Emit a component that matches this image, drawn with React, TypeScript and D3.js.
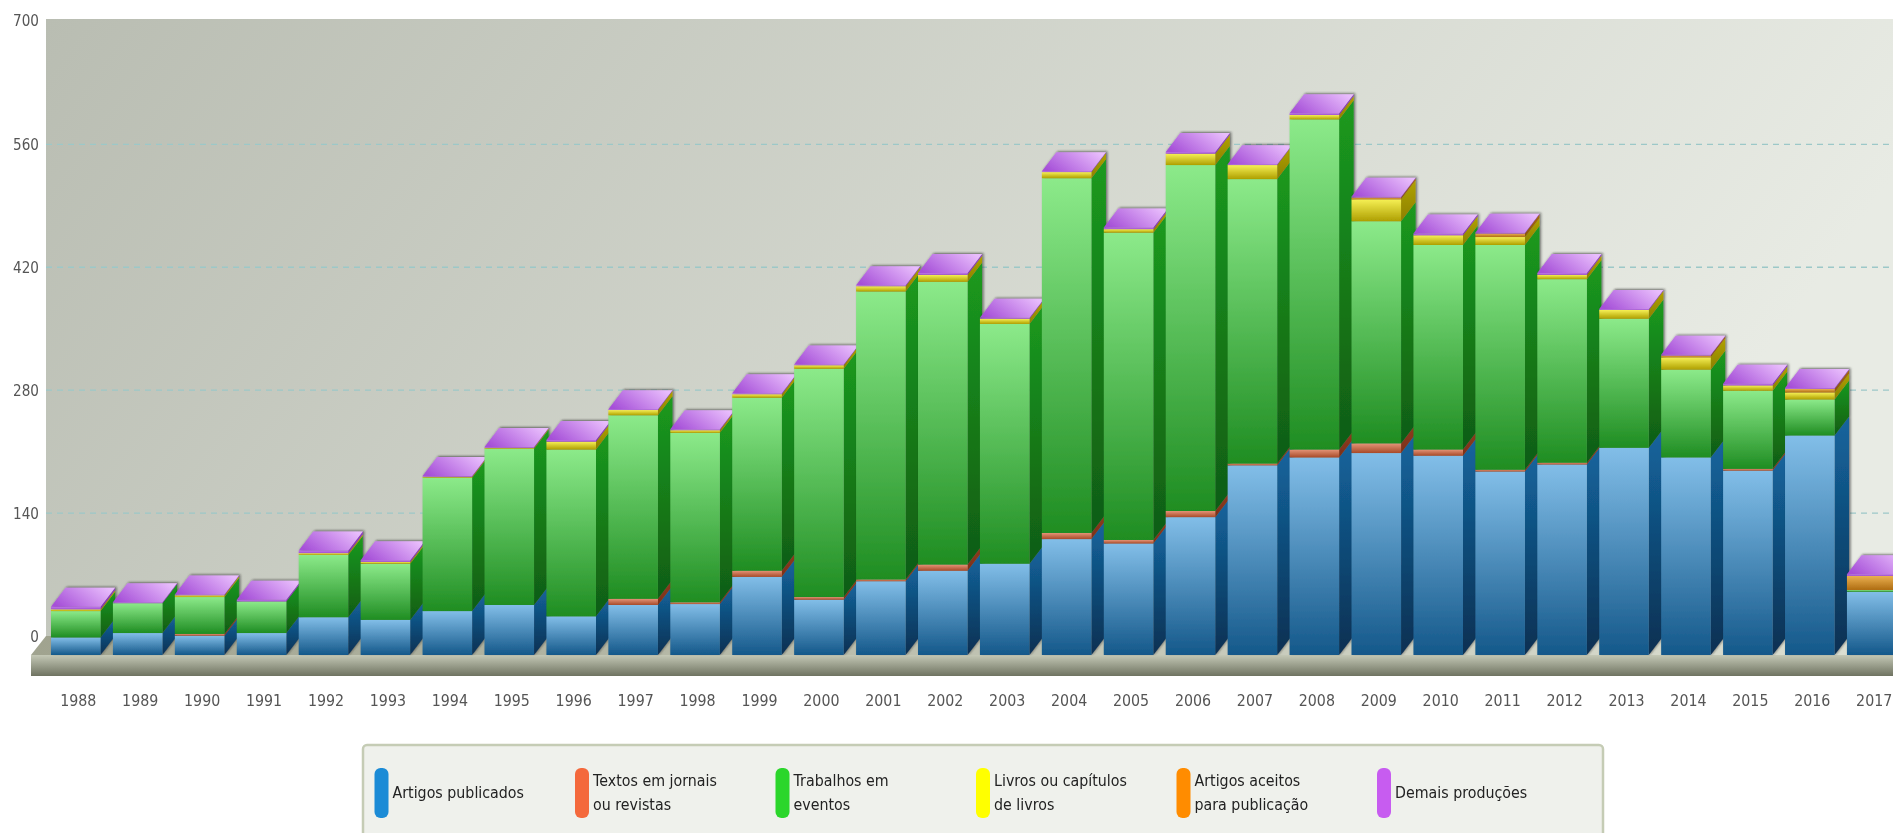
import React from "react";
import * as d3 from "d3";

const years = ["1988","1989","1990","1991","1992","1993","1994","1995","1996","1997","1998","1999","2000","2001","2002","2003","2004","2005","2006","2007","2008","2009","2010","2011","2012","2013","2014","2015","2016","2017"];
const artigos = [20,25,22,25,43,40,50,57,44,57,58,89,63,84,96,104,132,127,157,216,225,230,227,209,217,236,225,210,250,72];
const textos = [0,0,2,0,0,0,0,0,0,7,2,7,3,2,7,0,7,4,7,2,9,11,7,2,2,0,0,2,0,0];
const trabalhos = [30,34,42,36,71,64,152,178,190,209,193,197,260,328,322,273,404,350,394,324,376,253,233,256,209,147,100,89,41,2];
const livros = [2,0,2,0,2,2,1,1,9,6,3,4,4,6,8,6,7,4,13,16,5,25,11,9,5,10,14,6,8,0];
const aceitos = [0,0,0,0,0,0,0,0,0,0,0,0,0,0,0,0,0,0,0,0,0,2,0,4,0,0,2,0,4,16];
const demais = [3,1,1,2,3,2,1,1,2,1,1,1,1,1,2,1,1,2,2,1,2,1,2,1,2,1,1,2,1,2];
const yTicks = [0,140,280,420,560,700];
const seriesNames = ["Artigos publicados","Textos em jornais|ou revistas","Trabalhos em|eventos","Livros ou capítulos|de livros","Artigos aceitos|para publicação","Demais produções"];
const seriesValues = [artigos,textos,trabalhos,livros,aceitos,demais];
const legendColors = ["#1b8bd6","#f4693c","#2bd62b","#ffff00","#ff8c00","#c75cf0"];
const frontTop = ["#82bee8","#e49478","#8cea8a","#f6f055","#eab050","#c078ea"];
const frontBottom = ["#14588a","#a84a28","#1f8d22","#ae9f00","#ae6c10","#a050d0"];
const sideTop = ["#14659e","#8f3d20","#1b9a20","#b0a200","#a86a10","#9040c0"];
const sideBottom = ["#0a3052","#7a3018","#105c12","#8c8000","#8a5508","#8030b0"];

const W = 1893, H = 833;
const DX = 14.5, DY = 19;
const x = d3.scaleBand<string>().domain(years).range([51, 51 + 30 * 61.93 - 12.4]).paddingInner(0.2).paddingOuter(0);
const y = d3.scaleLinear().domain([0, 700]).range([655, 40.4]);
const stack = d3.stack<number>().keys(d3.range(6).map(String)).value((i, k) => seriesValues[+k][i]);
const layers = stack(d3.range(years.length));

const poly = (pts: number[][]) => "M" + pts.map(p => p.join(",")).join("L") + "Z";

const Txt = ({ x: tx, y: ty, anchor, fill, size, sx, children }: any) => (
  <text transform={`translate(${tx},${ty}) scale(${sx},1)`} textAnchor={anchor} fill={fill} fontSize={size}
    fontFamily="'DejaVu Sans', sans-serif">{children}</text>
);

export default function App() {
  const bw = x.bandwidth();
  return (
    <svg width={W} height={H} viewBox={`0 0 ${W} ${H}`} style={{ position: "absolute", left: 0, top: 0, display: "block", background: "#fff", filter: "blur(0.45px)" }}>
      <defs>
        <linearGradient id="wall" x1="0" y1="0" x2="1" y2="0.25">
          <stop offset="0" stopColor="#b9bdb2" /><stop offset="1" stopColor="#e8ebe4" />
        </linearGradient>
        <linearGradient id="floorTop" x1="0" y1="0" x2="1" y2="0">
          <stop offset="0" stopColor="#a0a38f" /><stop offset="1" stopColor="#dde0d3" />
        </linearGradient>
        <linearGradient id="floorFront" x1="0" y1="0" x2="0" y2="1">
          <stop offset="0" stopColor="#c4c8b6" /><stop offset="1" stopColor="#6f7361" />
        </linearGradient>
        <linearGradient id="topFace" x1="0" y1="0.7" x2="1" y2="0.3">
          <stop offset="0" stopColor="#a650d8" /><stop offset="1" stopColor="#e8bcfc" />
        </linearGradient>
        {seriesNames.map((_, i) => (
          <React.Fragment key={i}>
            <linearGradient id={`f${i}`} x1="0" y1="0" x2="0" y2="1">
              <stop offset="0" stopColor={frontTop[i]} /><stop offset="1" stopColor={frontBottom[i]} />
            </linearGradient>
            <linearGradient id={`s${i}`} x1="0" y1="0" x2="0" y2="1">
              <stop offset="0" stopColor={sideTop[i]} /><stop offset="1" stopColor={sideBottom[i]} />
            </linearGradient>
          </React.Fragment>
        ))}
        <filter id="sh" x="-15%" y="-15%" width="135%" height="125%">
          <feDropShadow dx="1.5" dy="-1" stdDeviation="1.3" floodColor="#222" floodOpacity="0.6" />
        </filter>
      </defs>

      <rect x={46} y={19} width={W - 46} height={y(0) - 19} fill="url(#wall)" />
      {yTicks.filter(t => t > 0 && t < 700).map(t => (
        <line key={t} x1={46} x2={W} y1={y(t) - DY} y2={y(t) - DY} stroke="#9cc8c8" strokeWidth={1.3} strokeDasharray="6 5" />
      ))}
      <path d={poly([[31, y(0)], [46, y(0) - DY], [W, y(0) - DY], [W, y(0)]])} fill="url(#floorTop)" />
      <rect x={31} y={y(0)} width={W - 31} height={21} fill="url(#floorFront)" />

      {yTicks.map(t => (
        <Txt key={t} x={39} y={(t === 700 ? 26 : y(t) - DY + 6)} anchor="end" fill="#555" size={16} sx={0.85}>{t}</Txt>
      ))}
      {years.map(yr => (
        <Txt key={yr} x={x(yr)! + bw / 2 + 2.5} y={706} anchor="middle" fill="#555" size={15} sx={0.95}>{yr}</Txt>
      ))}

      {years.map((yr, i) => {
        const x0 = x(yr)!;
        const total = layers[5][i][1];
        const yt = y(total);
        return (
          <g key={yr} filter="url(#sh)">
            {layers.map((layer, s) => {
              const [a, b] = layer[i];
              if (b <= a) return null;
              const y0 = y(a), y1 = y(b);
              return (
                <g key={s}>
                  <path d={poly([[x0 + bw, y0], [x0 + bw + DX, y0 - DY], [x0 + bw + DX, y1 - DY], [x0 + bw, y1]])} fill={`url(#s${s})`} />
                  <rect x={x0} y={y1} width={bw} height={y0 - y1} fill={`url(#f${s})`} />
                </g>
              );
            })}
            <path d={poly([[x0, yt], [x0 + DX, yt - DY], [x0 + bw + DX, yt - DY], [x0 + bw, yt]])} fill="url(#topFace)" />
          </g>
        );
      })}

      <rect x={363} y={745} width={1240} height={100} rx={4} fill="#eff1ec" stroke="#c5ccb5" strokeWidth={2.5} />
      {seriesNames.map((name, i) => {
        const sx = 374.5 + i * 200.5;
        const lines = name.split("|");
        return (
          <g key={name}>
            <rect x={sx} y={768} width={14} height={50} rx={6} fill={legendColors[i]} />
            {lines.map((ln, j) => (
              <Txt key={j} x={sx + 18} y={(lines.length === 1 ? 798 : 786 + j * 24)} anchor="start" fill="#222" size={15} sx={0.95}>{ln}</Txt>
            ))}
          </g>
        );
      })}
    </svg>
  );
}
